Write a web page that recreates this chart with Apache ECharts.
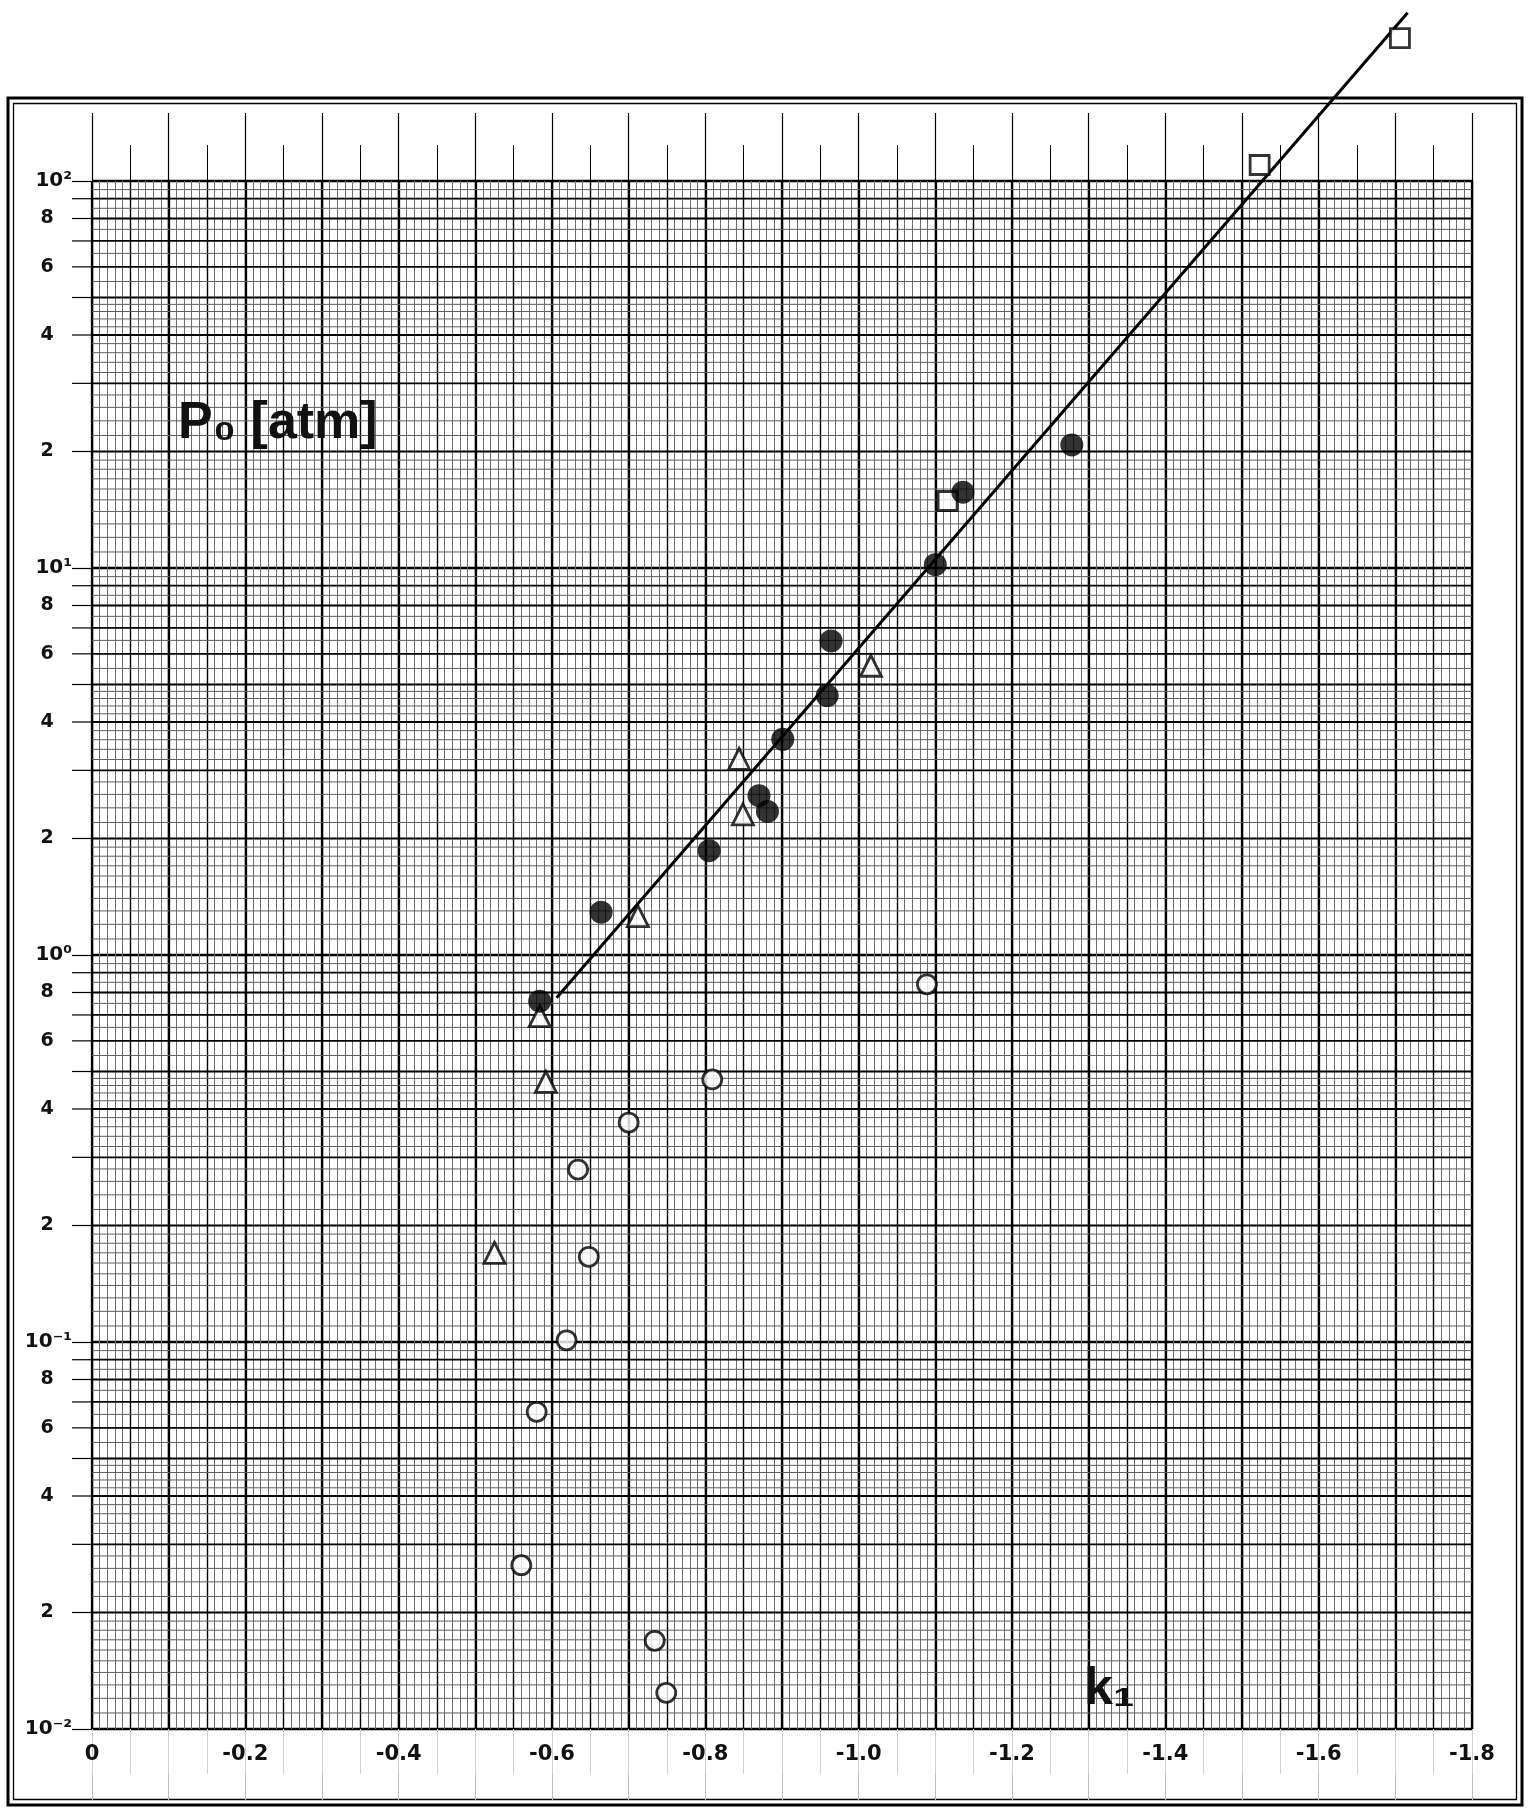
<!DOCTYPE html>
<html>
<head>
<meta charset="utf-8">
<script src="https://cdn.jsdelivr.net/npm/echarts@6/dist/echarts.min.js"></script>
<style>
html,body{margin:0;padding:0;background:#fff;}
#chart{width:1532px;height:1809px;}
</style>
</head>
<body>
<div id="chart"></div>
<script>
// ---- data ----
const xTickLabels = ['0', '-0.2', '-0.4', '-0.6', '-0.8', '-1.0', '-1.2', '-1.4', '-1.6', '-1.8'];
const yDecadeLabels = ['10⁻²', '10⁻¹', '10⁰', '10¹', '10²'];
const yMantissaLabels = ['2', '4', '6', '8'];

const filledCircles = [
  [-0.584, 0.76], [-0.664, 1.29], [-0.805, 1.86], [-0.870, 2.58], [-0.881, 2.35],
  [-0.901, 3.61], [-0.959, 4.68], [-0.964, 6.48], [-1.100, 10.2], [-1.136, 15.7],
  [-1.278, 20.8]
];
const openCircles = [
  [-1.089, 0.84], [-0.809, 0.477], [-0.700, 0.369], [-0.634, 0.279], [-0.648, 0.166],
  [-0.619, 0.101], [-0.580, 0.0660], [-0.560, 0.0265], [-0.734, 0.0169], [-0.749, 0.0124]
];
const openTriangles = [
  [-1.016, 5.59], [-0.844, 3.21], [-0.849, 2.31], [-0.712, 1.26], [-0.584, 0.695],
  [-0.592, 0.47], [-0.525, 0.170]
];
const openSquares = [
  [-1.116, 14.9], [-1.523, 110], [-1.706, 234]
];
const fitLine = [[-0.606, 0.775], [-1.716, 272]];

// ---- log-paper grid line mantissas (grid, not data) ----
const gridMantissaMain = [2, 3, 4, 5, 6, 7, 8, 9];
const gridMantissaFine = [1.1, 1.2, 1.3, 1.4, 1.5, 1.6, 1.7, 1.8, 1.9,
  2.2, 2.4, 2.6, 2.8, 3.2, 3.4, 3.6, 3.8, 4.2, 4.4, 4.6, 4.8,
  5.5, 6.5, 7.5, 8.5, 9.5];
const gridDecades = [-2, -1, 0, 1];

const hLines = [];
gridDecades.forEach(function (e) {
  const base = Math.pow(10, e);
  gridMantissaFine.forEach(function (m) {
    hLines.push({ v: Number((m * base).toPrecision(6)), lvl: 2, label: '' });
  });
  gridMantissaMain.forEach(function (m) {
    const li = yMantissaLabels.indexOf(String(m));
    hLines.push({ v: Number((m * base).toPrecision(6)), lvl: 1, label: li >= 0 ? yMantissaLabels[li] : '' });
  });
});

const XMIN = -1.8, XMAX = 0;
const labelFont = 'DejaVu Sans';

const chart = echarts.init(document.getElementById('chart'), null, { renderer: 'canvas' });

const xCommon = {
  type: 'value', min: XMIN, max: XMAX, inverse: true, gridIndex: 0,
  axisLine: { show: false, onZero: false }
};

const option = {
  animation: false,
  backgroundColor: '#ffffff',
  grid: { left: 92, right: 60, top: 181, bottom: 80, containLabel: false },
  xAxis: [
    Object.assign({}, xCommon, {
      position: 'bottom', interval: 0.1,
      axisTick: { show: true, length: 71, lineStyle: { color: '#bdbdbd', width: 1 } },
      axisLabel: {
        show: true, margin: 15, color: '#111', fontSize: 21, fontWeight: 'bold', fontFamily: labelFont,
        formatter: function (v) {
          const k = Math.round(-v / 0.1);
          if (k % 2 !== 0) return '';
          return xTickLabels[k / 2] || '';
        }
      },
      splitLine: { show: true, lineStyle: { color: '#000', width: 2.3 } }
    }),
    Object.assign({}, xCommon, {
      position: 'bottom', interval: 0.05,
      axisTick: { show: true, length: 45, lineStyle: { color: '#d0d0d0', width: 1 } },
      axisLabel: { show: false },
      splitLine: { show: true, lineStyle: { color: '#000', width: 1.4 } },
      minorTick: { show: false, splitNumber: 5 },
      minorSplitLine: { show: true, lineStyle: { color: '#6e6e6e', width: 1 } }
    }),
    Object.assign({}, xCommon, {
      position: 'top', interval: 0.1,
      axisTick: { show: true, length: 68, lineStyle: { color: '#000', width: 1.2 } },
      axisLabel: { show: false },
      splitLine: { show: false }
    }),
    Object.assign({}, xCommon, {
      position: 'top', interval: 0.05,
      axisTick: { show: true, length: 36, lineStyle: { color: '#000', width: 1 } },
      axisLabel: { show: false },
      splitLine: { show: false }
    })
  ],
  yAxis: [{
    type: 'log', logBase: 10, min: 0.01, max: 100, gridIndex: 0,
    axisLine: { show: false, onZero: false },
    axisTick: { show: true, length: 20, lineStyle: { color: '#000', width: 1.2 } },
    axisLabel: {
      show: true, margin: 20, color: '#111', fontSize: 20, fontWeight: 'bold', fontFamily: labelFont,
      formatter: function (v) {
        const e = Math.round(Math.log10(v));
        return yDecadeLabels[e + 2] || '';
      }
    },
    splitLine: { show: true, lineStyle: { color: '#000', width: 2.4 } },
    minorTick: { show: false },
    minorSplitLine: { show: false }
  }],
  graphic: [
    { type: 'rect', silent: true, shape: { x: 8, y: 98, width: 1514, height: 1707 },
      style: { fill: 'none', stroke: '#000', lineWidth: 3 } },
    { type: 'rect', silent: true, shape: { x: 13.5, y: 103.5, width: 1503, height: 1696 },
      style: { fill: 'none', stroke: '#000', lineWidth: 1.3 } },
    { type: 'text', silent: true, left: 178, top: 398, z: 100,
      style: { text: 'P₀ [atm]', fill: '#111', font: 'bold 52px "Liberation Sans"' } },
    { type: 'text', silent: true, left: 1084, top: 1664, z: 100,
      style: { text: 'k₁', fill: '#111', font: 'bold 52px "Liberation Sans"' } }
  ],
  series: [
    {
      type: 'custom', name: 'gridlines', silent: true, z: 1,
      xAxisIndex: 0, yAxisIndex: 0,
      data: hLines.map(function (h) { return [0, h.v]; }),
      renderItem: function (params, api) {
        const h = hLines[params.dataIndex];
        const a = api.coord([XMAX, h.v]);
        const b = api.coord([XMIN, h.v]);
        const ch = [{
          type: 'line', silent: true,
          shape: { x1: a[0], y1: a[1], x2: b[0], y2: b[1] },
          style: { stroke: h.lvl === 1 ? '#000' : '#5e5e5e', lineWidth: h.lvl === 1 ? 1.8 : 1 }
        }];
        if (h.lvl === 1) {
          ch.push({
            type: 'line', silent: true,
            shape: { x1: a[0] - 20, y1: a[1], x2: a[0], y2: a[1] },
            style: { stroke: '#000', lineWidth: 1.2 }
          });
        }
        if (h.label) {
          ch.push({
            type: 'text', silent: true, x: a[0] - 45, y: a[1],
            style: { text: h.label, fill: '#111', fontSize: 19, fontWeight: 'bold', fontFamily: labelFont,
              align: 'center', verticalAlign: 'middle' }
          });
        }
        return { type: 'group', children: ch };
      }
    },
    {
      type: 'line', name: 'fit', data: fitLine, symbol: 'none', clip: false, z: 4, silent: true,
      lineStyle: { color: '#000', width: 3 }
    },
    {
      type: 'scatter', name: 'open triangles', data: openTriangles, symbol: 'triangle', symbolSize: 21,
      clip: false, z: 5, silent: true,
      itemStyle: { color: '#fff', borderColor: '#000', borderWidth: 2.8 }
    },
    {
      type: 'scatter', name: 'open circles', data: openCircles, symbol: 'circle', symbolSize: 19,
      clip: false, z: 5, silent: true,
      itemStyle: { color: '#fff', borderColor: '#000', borderWidth: 2.8 }
    },
    {
      type: 'scatter', name: 'open squares', data: openSquares, symbol: 'rect', symbolSize: 19,
      clip: false, z: 6, silent: true,
      itemStyle: { color: '#fff', borderColor: '#000', borderWidth: 2.8 }
    },
    {
      type: 'scatter', name: 'filled circles', data: filledCircles, symbol: 'circle', symbolSize: 23,
      clip: false, z: 7, silent: true,
      itemStyle: { color: '#000', borderColor: '#000', borderWidth: 0 }
    }
  ]
};

chart.setOption(option);
</script>
</body>
</html>
